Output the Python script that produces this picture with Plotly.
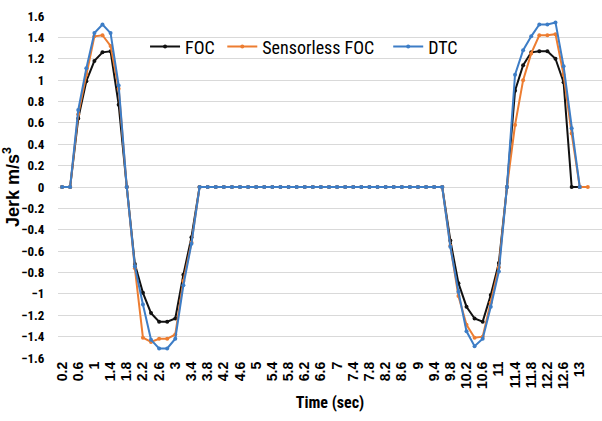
import plotly.graph_objects as go

times = ["0.2", "0.4", "0.6", "0.8", "1", "1.2", "1.4", "1.6", "1.8", "2",
         "2.2", "2.4", "2.6", "2.8", "3", "3.2", "3.4", "3.6", "3.8", "4",
         "4.2", "4.4", "4.6", "4.8", "5", "5.2", "5.4", "5.6", "5.8", "6",
         "6.2", "6.4", "6.6", "6.8", "7", "7.2", "7.4", "7.6", "7.8", "8",
         "8.2", "8.4", "8.6", "8.8", "9", "9.2", "9.4", "9.6", "9.8", "10",
         "10.2", "10.4", "10.6", "10.8", "11", "11.2", "11.4", "11.6", "11.8", "12",
         "12.2", "12.4", "12.6", "12.8", "13", "13.2", "13.4"]

tick_labels = ["0.2", "0.6", "1", "1.4", "1.8", "2.2", "2.6", "3", "3.4", "3.8",
               "4.2", "4.6", "5", "5.4", "5.8", "6.2", "6.6", "7", "7.4", "7.8",
               "8.2", "8.6", "9", "9.4", "9.8", "10.2", "10.6", "11", "11.4", "11.8",
               "12.2", "12.6", "13"]

foc = [0, 0, 0.64, 0.99, 1.18, 1.26, 1.27, 0.77, 0, -0.72,
       -0.99, -1.18, -1.26, -1.26, -1.23, -0.82, -0.47, 0, 0, 0,
       0, 0, 0, 0, 0, 0, 0, 0, 0, 0,
       0, 0, 0, 0, 0, 0, 0, 0, 0, 0,
       0, 0, 0, 0, 0, 0, 0, 0, -0.50, -0.90,
       -1.12, -1.23, -1.26, -1.01, -0.71, 0, 0.90, 1.14, 1.26, 1.27,
       1.27, 1.20, 0.98, 0, 0]

sensorless_foc = [0, 0, 0.68, 1.05, 1.41, 1.42, 1.32, 0.92, 0, -0.76,
                  -1.41, -1.45, -1.42, -1.42, -1.38, -0.88, -0.52, 0, 0, 0,
                  0, 0, 0, 0, 0, 0, 0, 0, 0, 0,
                  0, 0, 0, 0, 0, 0, 0, 0, 0, 0,
                  0, 0, 0, 0, 0, 0, 0, 0, -0.55, -1.02,
                  -1.29, -1.41, -1.40, -1.08, -0.75, 0, 0.58, 1.00, 1.25, 1.42,
                  1.42, 1.43, 1.05, 0.50, 0, 0]

dtc = [0, 0, 0.72, 1.11, 1.44, 1.52, 1.44, 0.95, 0, -0.745,
       -1.10, -1.43, -1.51, -1.51, -1.42, -0.92, -0.53, 0, 0, 0,
       0, 0, 0, 0, 0, 0, 0, 0, 0, 0,
       0, 0, 0, 0, 0, 0, 0, 0, 0, 0,
       0, 0, 0, 0, 0, 0, 0, 0, -0.56, -0.98,
       -1.35, -1.49, -1.42, -1.12, -0.79, 0, 1.05, 1.28, 1.41, 1.52,
       1.52, 1.54, 1.13, 0.55, 0]

series = [
    ("FOC", foc, "#111111", "legend"),
    ("Sensorless FOC", sensorless_foc, "#ED7D31", "legend2"),
    ("DTC", dtc, "#3D7DC6", "legend3"),
]

narrow = "Liberation Sans Narrow, Roboto Condensed, Roboto, sans-serif"
bold_sans = "Liberation Sans, Arial, sans-serif"

fig = go.Figure()
for name, vals, color, lg in series:
    fig.add_trace(go.Scatter(
        x=times[:len(vals)], y=vals, name=name, mode="lines+markers",
        line=dict(color=color, width=2),
        marker=dict(color=color, size=4, symbol="circle"),
        legend=lg,
    ))

leg_common = dict(orientation="h", yanchor="middle", y=0.91, xanchor="left",
                  bgcolor="rgba(0,0,0,0)", font=dict(family=narrow, size=18, color="#000000"),
                  itemwidth=30)
fig.update_layout(
    width=602, height=421,
    margin=dict(l=58, r=0, t=16, b=63),
    paper_bgcolor="white", plot_bgcolor="white",
    showlegend=True,
    legend=dict(x=0.16, **leg_common),
    legend2=dict(x=0.302, **leg_common),
    legend3=dict(x=0.607, **leg_common),
    xaxis=dict(
        type="category", categoryorder="array", categoryarray=times,
        range=[-0.5, len(times) - 0.25],
        tickmode="array", tickvals=tick_labels, ticktext=tick_labels,
        tickangle=-90, showgrid=False, zeroline=False,
        ticks="", showline=False,
        tickfont=dict(family=bold_sans, size=14, color="#000000", weight="bold"),
        title=dict(text="<b>Time (sec)</b>", font=dict(family=narrow, size=16, color="#000000"), standoff=8),
    ),
    yaxis=dict(
        range=[-1.6, 1.6], tickmode="linear", tick0=-1.6, dtick=0.2,
        showgrid=True, gridcolor="#D9D9D9", gridwidth=1,
        zeroline=False, showline=False,
        ticks="outside", ticklen=10, tickcolor="rgba(0,0,0,0)",
        tickformat="~g",
        tickfont=dict(family=narrow, size=13, color="#000000", weight="bold"),
        title=dict(text="<b>Jerk m/s<sup>3</sup></b>", font=dict(family=bold_sans, size=18, color="#000000"), standoff=4),
    ),
)

fig.write_html("out.html")
